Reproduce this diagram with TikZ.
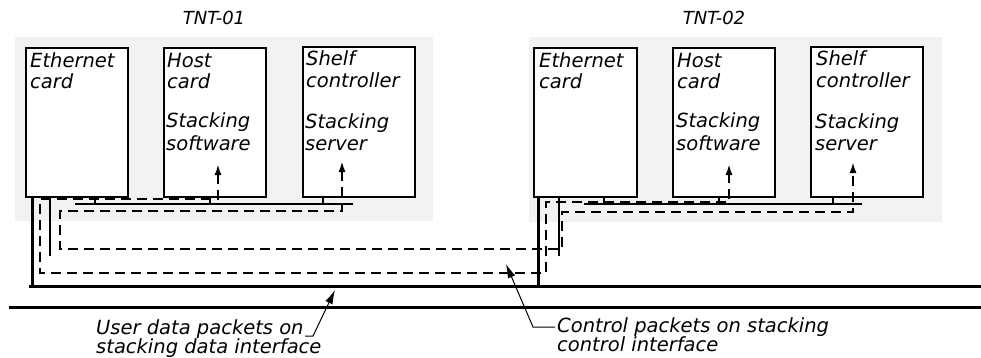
\documentclass[tikz,border=0pt]{standalone}
\usepackage{fontspec}
\setmainfont{DejaVu Sans}
\usetikzlibrary{arrows.meta}
\definecolor{panelgray}{HTML}{F2F2F2}
\tikzset{
  panel/.style={fill=panelgray},
  cardbox/.style={draw, line width=2pt, fill=white, anchor=north west, inner sep=0, minimum width=#1, minimum height=149pt},
  lbl/.style={anchor=base west, inner sep=0},
  ttl/.style={anchor=base, inner sep=0, font=\itshape\fontsize{18}{21}\selectfont},
  dataline/.style={line width=3pt},
  stub/.style={line width=2.5pt},
  bus/.style={line width=2pt},
  ctrl/.style={line width=2pt, dash pattern=on 10pt off 6pt, {Latex[length=11pt,width=7pt]}-{Latex[length=11pt,width=7pt]}},
  leader/.style={line width=1pt, -{Latex[length=14pt,width=8pt]}}
}
\begin{document}
\begin{tikzpicture}[x=1pt,y=-1pt, font=\itshape\fontsize{19.5}{21.5}\selectfont]
\useasboundingbox (0,0) rectangle (981,358);
% panels
\fill[panel] (15,37) rectangle (433,221);
\fill[panel] (529,37) rectangle (942,222);
% titles
\node[ttl] (t1) at (214,25) {TNT-01};
\node[ttl] (t2) at (714,25) {TNT-02};
% cards
\node[cardbox=102pt] (e1) at (25,47) {};
\node[cardbox=102pt] (h1) at (163,47) {};
\node[cardbox=112pt, minimum height=150pt] (s1) at (302,46) {};
\node[cardbox=103pt] (e2) at (533,47) {};
\node[cardbox=102pt] (h2) at (672,47) {};
\node[cardbox=112pt, minimum height=150pt] (s2) at (810,46) {};
% card texts
\node[lbl] (e1a) at (30,68) {Ethernet};
\node[lbl] (e1b) at (30,89) {card};
\node[lbl] (h1a) at (167,68) {Host};
\node[lbl] (h1b) at (167,89) {card};
\node[lbl] (h1c) at (166,128) {Stacking};
\node[lbl] (h1d) at (166,150) {software};
\node[lbl] (s1a) at (306,66) {Shelf};
\node[lbl] (s1b) at (306,88) {controller};
\node[lbl] (s1c) at (305,129) {Stacking};
\node[lbl] (s1d) at (305,150) {server};
\node[lbl] (e2a) at (539,68) {Ethernet};
\node[lbl] (e2b) at (539,89) {card};
\node[lbl] (h2a) at (677,68) {Host};
\node[lbl] (h2b) at (677,89) {card};
\node[lbl] (h2c) at (676,128) {Stacking};
\node[lbl] (h2d) at (676,150) {software};
\node[lbl] (s2a) at (816,66) {Shelf};
\node[lbl] (s2b) at (816,88) {controller};
\node[lbl] (s2c) at (815,129) {Stacking};
\node[lbl] (s2d) at (815,150) {server};
% coordinates
\coordinate (d1top) at (32,196);
\coordinate (d1bot) at (32,286);
\coordinate (d2top) at (538,196);
\coordinate (d2bot) at (538,286);
\coordinate (dL) at (28.5,286);
\coordinate (dR) at (981,286);
\coordinate (lL) at (9,307);
\coordinate (lR) at (981,307);
% stacking data interface
\draw[dataline] (d1top) -- (d1bot);
\draw[dataline] (d2top) -- (d2bot);
\draw[dataline] (dL) -- (dR);
\draw[dataline] (lL) -- (lR);
% stubs
\draw[stub] (50,196) -- (50,256);
\draw[stub] (559,196) -- (559,256);
% buses
\draw[bus] (75,204) -- (353,204);
\draw[bus] (95,196) -- (95,204);
\draw[bus] (210,196) -- (210,204);
\draw[bus] (323,196) -- (323,204);
\draw[bus] (584,204) -- (862,204);
\draw[bus] (604,196) -- (604,204);
\draw[bus] (719,196) -- (719,204);
\draw[bus] (833,196) -- (833,204);
% control paths
\coordinate (a1) at (218,164);
\coordinate (a2) at (729,164);
\coordinate (b1) at (342,161);
\coordinate (b2) at (853,162);
\draw[ctrl] (a1) -- (218,199) -- (40,199) -- (40,273) -- (546,273) -- (546,202) -- (729,202) -- (a2);
\draw[ctrl] (b1) -- (342,211) -- (60,211) -- (60,249) -- (562,249) -- (562,212) -- (853,212) -- (b2);
% labels
\node[lbl] (u1) at (96,334) {User data packets on};
\node[lbl] (u2) at (96,353) {stacking data interface};
\node[lbl] (c1) at (557,332) {Control packets on stacking};
\node[lbl] (c2) at (557,351) {control interface};
\coordinate (ut) at (335,290);
\coordinate (ct) at (506,264);
\draw[leader] (305,336) -- (313,336) -- (ut);
\draw[leader] (555,327) -- (533,327) -- (ct);
\end{tikzpicture}
\end{document}
